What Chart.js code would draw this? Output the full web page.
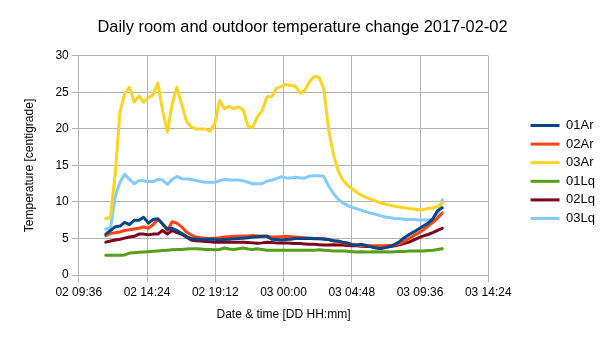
<!DOCTYPE html>
<html>
<head>
<meta charset="utf-8">
<script src="https://cdn.jsdelivr.net/npm/chart.js@4.4.1/dist/chart.umd.min.js"></script>
<style>
html,body{margin:0;padding:0;background:#fff;}
canvas{display:block;}
</style>
</head>
<body>
<canvas id="c" width="605" height="340"></canvas>
<script>
// Sample times (DD HH:mm)
const times = [
"02 11:30","02 11:50","02 12:10","02 12:30","02 12:50","02 13:10","02 13:30","02 13:50",
"02 14:10","02 14:30","02 14:50","02 15:10","02 15:30","02 15:50","02 16:10","02 16:30",
"02 16:50","02 17:10","02 17:30","02 17:50","02 18:10","02 18:30","02 18:50","02 19:10",
"02 19:30","02 19:50","02 20:10","02 20:30","02 20:50","02 21:10","02 21:30","02 21:50",
"02 22:10","02 22:30","02 22:50","02 23:10","02 23:30","02 23:50","03 00:10","03 00:30",
"03 00:50","03 01:10","03 01:30","03 01:50","03 02:10","03 02:30","03 02:50","03 03:10",
"03 03:30","03 03:50","03 04:10","03 04:30","03 04:50","03 05:10","03 05:30","03 05:50",
"03 06:10","03 06:30","03 06:50","03 07:10","03 07:30","03 07:50","03 08:10","03 08:30",
"03 08:50","03 09:10","03 09:30","03 09:50","03 10:10","03 10:30","03 10:50","03 11:10"
];

const seriesNames = ["01Ar","02Ar","03Ar","01Lq","02Lq","03Lq"];

const s01Ar = [5.6,6.1,6.6,6.7,7.2,6.9,7.5,7.5,7.9,7.1,7.6,7.7,7.0,6.3,6.4,6.1,
5.7,5.3,5.0,4.9,4.9,4.9,4.9,4.9,4.8,4.85,4.9,4.95,5.0,5.05,5.1,5.2,
5.25,5.3,5.3,4.9,4.85,4.8,4.85,4.9,5.0,5.0,5.0,5.0,4.95,4.95,4.9,4.85,
4.7,4.65,4.5,4.4,4.1,4.1,4.2,4.05,3.85,3.7,3.6,3.75,3.9,4.2,4.6,5.1,
5.55,5.9,6.3,6.7,7.1,7.7,8.8,9.2];

const s02Ar = [5.4,5.7,5.8,5.9,6.1,6.2,6.3,6.4,6.6,6.4,6.9,7.6,7.0,6.1,7.3,7.1,
6.6,5.9,5.5,5.2,5.1,5.05,5.0,5.05,5.1,5.2,5.25,5.3,5.3,5.35,5.35,5.4,
5.35,5.3,5.3,5.2,5.2,5.25,5.3,5.25,5.2,5.15,5.1,5.05,5.0,5.0,5.0,4.85,
4.7,4.55,4.4,4.3,4.2,4.1,4.05,4.0,4.0,4.0,4.0,4.0,4.05,4.1,4.3,4.6,
5.0,5.4,5.75,6.2,6.7,7.2,7.8,8.5];

const s03Ar = [7.7,7.9,14.0,22.3,24.9,25.7,23.7,24.5,23.7,24.3,24.7,26.3,22.5,19.6,23.4,25.7,
23.4,21.1,20.3,20.0,20.0,20.0,19.7,20.7,23.9,22.8,23.1,22.8,23.0,22.6,20.4,20.2,
21.7,22.5,24.4,24.4,25.6,25.8,26.1,26.0,25.9,24.9,25.3,26.5,27.2,27.1,25.5,20.0,
16.6,14.3,13.0,12.3,11.8,11.3,10.9,10.6,10.35,10.1,9.9,9.7,9.55,9.4,9.3,9.2,
9.1,9.05,8.95,8.95,9.1,9.2,9.35,9.9];

const s01Lq = [2.7,2.7,2.7,2.7,2.75,3.0,3.05,3.1,3.15,3.2,3.25,3.3,3.35,3.4,3.45,3.5,
3.5,3.55,3.6,3.6,3.55,3.5,3.5,3.45,3.5,3.7,3.55,3.5,3.6,3.7,3.55,3.5,
3.6,3.5,3.4,3.4,3.4,3.4,3.4,3.4,3.4,3.4,3.4,3.4,3.4,3.45,3.4,3.35,
3.3,3.3,3.3,3.25,3.2,3.15,3.2,3.15,3.15,3.2,3.15,3.2,3.15,3.2,3.25,3.2,
3.3,3.3,3.3,3.3,3.35,3.4,3.5,3.6];

const s02Lq = [4.5,4.65,4.8,4.9,5.05,5.2,5.3,5.6,5.6,5.5,5.6,5.6,6.1,5.6,6.1,5.8,
5.6,5.2,4.8,4.7,4.65,4.6,4.55,4.5,4.5,4.5,4.5,4.5,4.5,4.5,4.45,4.4,
4.35,4.4,4.5,4.45,4.4,4.4,4.4,4.35,4.3,4.3,4.25,4.2,4.2,4.15,4.1,4.1,
4.15,4.1,4.1,4.05,4.0,4.0,3.95,3.9,3.9,3.9,3.85,3.85,3.9,4.0,4.15,4.35,
4.5,4.8,5.1,5.35,5.55,5.8,6.1,6.4];

const s03Lq = [6.3,6.4,10.8,12.7,13.8,13.1,12.5,12.9,12.9,12.8,12.8,13.1,13.0,12.4,13.1,13.5,
13.2,13.15,13.1,12.95,12.8,12.7,12.7,12.7,12.9,13.1,13.0,13.0,13.0,12.9,12.7,12.5,
12.5,12.5,12.85,13.0,13.2,13.45,13.3,13.3,13.4,13.3,13.3,13.55,13.6,13.6,13.5,12.2,
11.2,10.4,9.9,9.5,9.25,9.05,8.85,8.65,8.45,8.3,8.1,7.95,7.85,7.75,7.7,7.65,
7.6,7.6,7.55,7.55,7.55,7.6,8.2,10.3];

const seriesColors = ["#004586","#ff420e","#ffd320","#579d1c","#7e0021","#83caff"];

const xTickMin = 9.6, xTickMax = 38.4, xTickStep = 4.8;
const yTickMin = 0, yTickMax = 30, yTickStep = 5;

// hours since 02 00:00
function toHours(s){
  const d = parseInt(s.slice(0,2),10);
  const h = parseInt(s.slice(3,5),10);
  const m = parseInt(s.slice(6,8),10);
  return (d-2)*24 + h + m/60;
}
function fmtHours(v){
  const tot = Math.round(v*60);
  const d = 2 + Math.floor(tot/1440);
  const r = tot % 1440;
  const hh = Math.floor(r/60), mm = r % 60;
  const p = n => String(n).padStart(2,'0');
  return p(d)+' '+p(hh)+':'+p(mm);
}

const allSeries = [s01Ar,s02Ar,s03Ar,s01Lq,s02Lq,s03Lq];
const xs = times.map(toHours);

const FONT = "'Liberation Sans', Arial, sans-serif";
Chart.defaults.font.family = FONT;
Chart.defaults.color = '#000';

const datasets = allSeries.map((arr,k)=>({
  label: seriesNames[k],
  data: arr.map((v,i)=>({x: xs[i], y: v})),
  borderColor: seriesColors[k],
  backgroundColor: seriesColors[k],
  borderWidth: 3,
  pointRadius: 0,
  tension: 0,
  fill: false,
  borderJoinStyle: 'round',
  borderCapStyle: 'round'
}));

const GRID = '#b3b3b3';

new Chart(document.getElementById('c'), {
  type: 'line',
  data: { datasets },
  options: {
    responsive: false,
    animation: false,
    events: [],
    layout: { padding: { left: 0, right: 0, top: 4, bottom: 0 } },
    plugins: {
      title: {
        display: true,
        text: 'Daily room and outdoor temperature change 2017-02-02',
        font: { size: 16.4, weight: 'normal', family: FONT },
        color: '#000',
        padding: { top: 13.6, bottom: 18.7 }
      },
      legend: {
        display: true,
        position: 'right',
        align: 'center',
        labels: {
          font: { size: 13, family: FONT },
          color: '#000',
          boxWidth: 29,
          boxHeight: 3,
          padding: 5.6,
          generateLabels(chart){
            const items = Chart.defaults.plugins.legend.labels.generateLabels(chart);
            items.forEach(it => { it.lineWidth = 0; it.fillStyle = it.strokeStyle; });
            return items;
          }
        }
      },
      tooltip: { enabled: false }
    },
    scales: {
      x: {
        type: 'linear',
        position: 'bottom',
        min: xTickMin, max: xTickMax,
        ticks: {
          stepSize: xTickStep,
          maxRotation: 0,
          autoSkip: false,
          padding: 3,
          font: { size: 12, family: FONT },
          color: '#000',
          callback: v => fmtHours(v)
        },
        grid: { color: GRID, tickLength: 7, tickColor: GRID, lineWidth: 1 },
        border: { color: GRID },
        title: {
          display: true,
          text: 'Date & time [DD HH:mm]',
          font: { size: 12, family: FONT },
          color: '#000',
          padding: { top: 5.4, bottom: 17.8 }
        }
      },
      y: {
        type: 'linear',
        position: 'left',
        min: yTickMin, max: yTickMax,
        ticks: {
          stepSize: yTickStep,
          padding: 3,
          font: { size: 12, family: FONT },
          color: '#000'
        },
        grid: { color: GRID, tickLength: 7, tickColor: GRID, lineWidth: 1 },
        border: { color: GRID },
        title: {
          display: true,
          text: 'Temperature [centigrade]',
          font: { size: 12, family: FONT },
          color: '#000',
          padding: { top: 22.8, bottom: 15.2 }
        }
      },
      gap: {
        type: 'linear',
        position: 'right',
        display: true,
        min: 0, max: 1,
        grid: { display: false, drawTicks: false },
        border: { display: false },
        ticks: { display: false },
        afterFit(s){ s.width = 36.7; }
      }
    }
  }
});
</script>
</body>
</html>
